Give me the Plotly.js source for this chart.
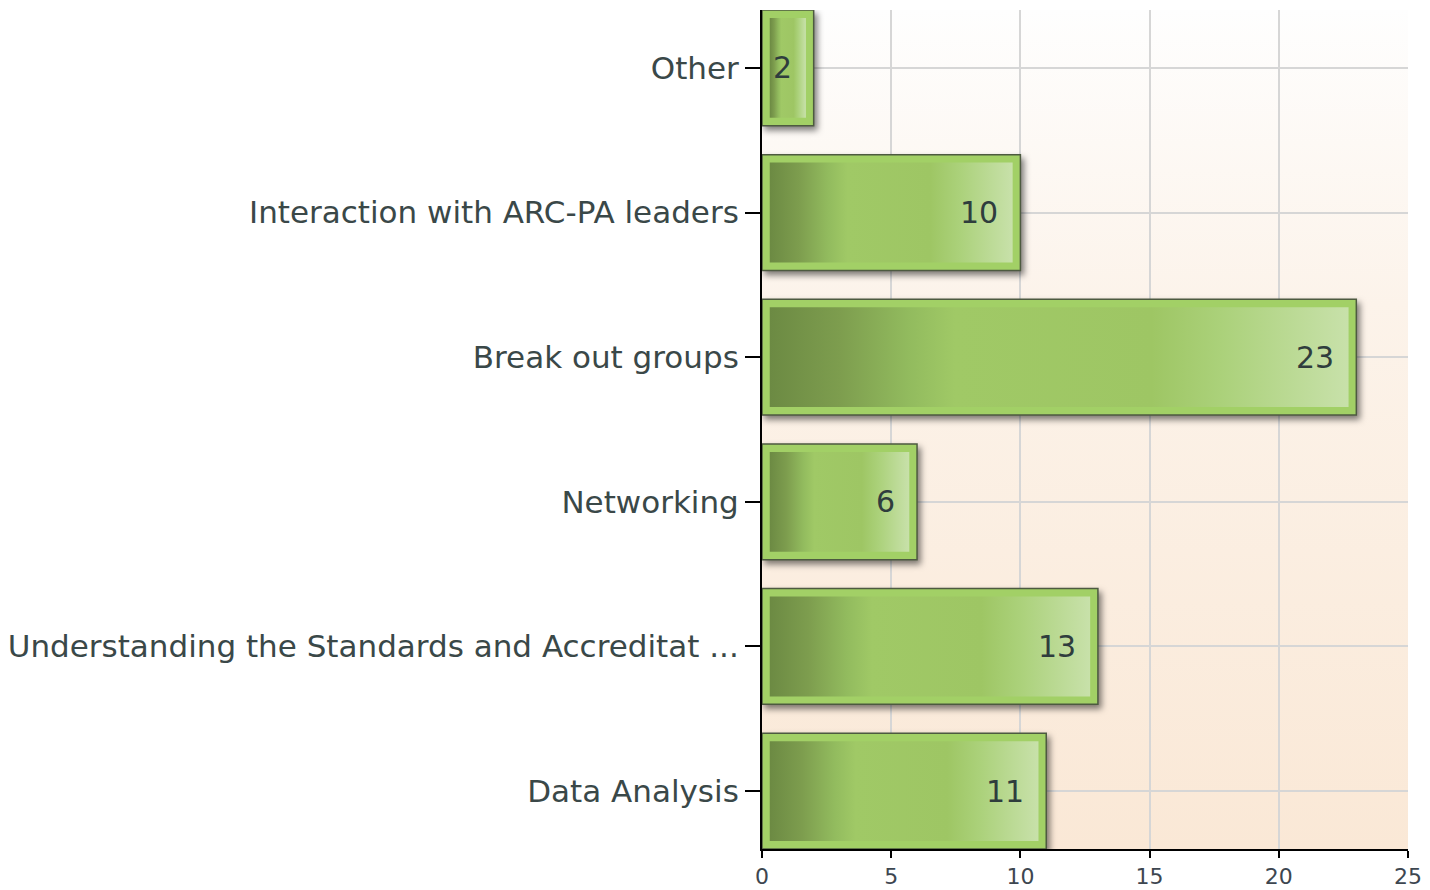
<!DOCTYPE html>
<html>
<head>
<meta charset="utf-8">
<script src="https://cdn.plot.ly/plotly-3.0.1.min.js"></script>
<style>
html,body{margin:0;padding:0;background:#fff;}
#chart{width:1430px;height:890px;}
</style>
</head>
<body>
<div id="chart"></div>
<script>
// ---- data ----
const categories = [
  "Other",
  "Interaction with ARC-PA leaders",
  "Break out groups",
  "Networking",
  "Understanding the Standards and Accreditat ...",
  "Data Analysis"
];
const values = [2, 10, 23, 6, 13, 11];
const xTickVals = [0, 5, 10, 15, 20, 25];
const xTickText = ["0", "5", "10", "15", "20", "25"];

// ---- styling ----
const FONT = "DejaVu Sans, Arial, sans-serif";
const INSET = 0.3; // inner bar inset in axis units

const outer = {
  type: "bar", orientation: "h",
  y: categories, x: values,
  width: 0.8,
  marker: { color: "#a2d066", line: { color: "#4d5a40", width: 1.5 } },
  hoverinfo: "x+y", showlegend: false
};
const inner = {
  type: "bar", orientation: "h",
  y: categories,
  x: values.map(v => Math.max(v - 2 * INSET, 0.05)),
  base: values.map(() => INSET),
  width: 0.69,
  marker: { color: "#9fc865", line: { width: 0 } },
  hoverinfo: "skip", showlegend: false
};

const annotations = categories.map((c, i) => ({
  xref: "x", yref: "y", x: values[i], y: c,
  text: String(values[i]),
  showarrow: false, xanchor: "right", yanchor: "middle",
  xshift: -20,
  font: { family: FONT, size: 30, color: "#2f3d3d" }
}));

const layout = {
  width: 1430, height: 890,
  margin: { l: 762, r: 22, t: 10, b: 41, pad: 0 },
  paper_bgcolor: "#ffffff",
  plot_bgcolor: "#fcf2e8",
  barmode: "overlay",
  font: { family: FONT, color: "#3a4848" },
  xaxis: {
    range: [0, 25],
    tickvals: xTickVals, ticktext: xTickText,
    ticks: "outside", ticklen: 7, tickwidth: 2, tickcolor: "#000",
    showline: true, linecolor: "#000", linewidth: 2,
    showgrid: true, gridcolor: "#d6d6d6", gridwidth: 2,
    zeroline: false,
    tickfont: { family: FONT, size: 22, color: "#3d4650" },
    fixedrange: true
  },
  yaxis: {
    type: "category",
    categoryorder: "array", categoryarray: categories,
    range: [5.4, -0.4],
    ticks: "outside", ticklen: 15, tickwidth: 2, tickcolor: "#000",
    showline: true, linecolor: "#000", linewidth: 2,
    showgrid: true, gridcolor: "#d6d6d6", gridwidth: 2,
    zeroline: false,
    tickfont: { family: FONT, size: 31, color: "#3a4848" },
    automargin: false,
    fixedrange: true
  },
  annotations: annotations
};

Plotly.newPlot("chart", [outer, inner], layout, { displayModeBar: false, staticPlot: true }).then(gd => {
  const ns = "http://www.w3.org/2000/svg";
  const svg = gd.querySelector("svg.main-svg");
  const defs = document.createElementNS(ns, "defs");
  function grad(id, x2, y2, stops) {
    const g = document.createElementNS(ns, "linearGradient");
    g.setAttribute("id", id);
    g.setAttribute("x1", "0"); g.setAttribute("y1", "0");
    g.setAttribute("x2", x2); g.setAttribute("y2", y2);
    stops.forEach(s => {
      const st = document.createElementNS(ns, "stop");
      st.setAttribute("offset", s[0]);
      st.setAttribute("stop-color", s[1]);
      g.appendChild(st);
    });
    defs.appendChild(g);
  }
  grad("barGrad", "1", "0", [
    ["0", "#6c8a43"], ["0.12", "#7d9d4e"], ["0.24", "#92bb5e"],
    ["0.32", "#a0c966"], ["0.66", "#9ec664"], ["0.78", "#abd17a"],
    ["1", "#c8e1aa"]
  ]);
  grad("bgGrad", "0", "1", [
    ["0", "#fefefe"], ["0.35", "#fcf3ea"], ["1", "#fae8d6"]
  ]);
  svg.insertBefore(defs, svg.firstChild);

  const bg = gd.querySelector(".bglayer rect.bg");
  if (bg) bg.style.fill = "url(#bgGrad)";

  const traces = gd.querySelectorAll(".barlayer .trace");
  if (traces[0]) traces[0].querySelectorAll("path").forEach(p => {
    p.style.filter = "drop-shadow(3px 4px 3px rgba(0,0,0,0.5))";
  });
  if (traces[1]) traces[1].querySelectorAll("path").forEach(p => {
    p.style.fill = "url(#barGrad)";
  });
});
</script>
</body>
</html>
